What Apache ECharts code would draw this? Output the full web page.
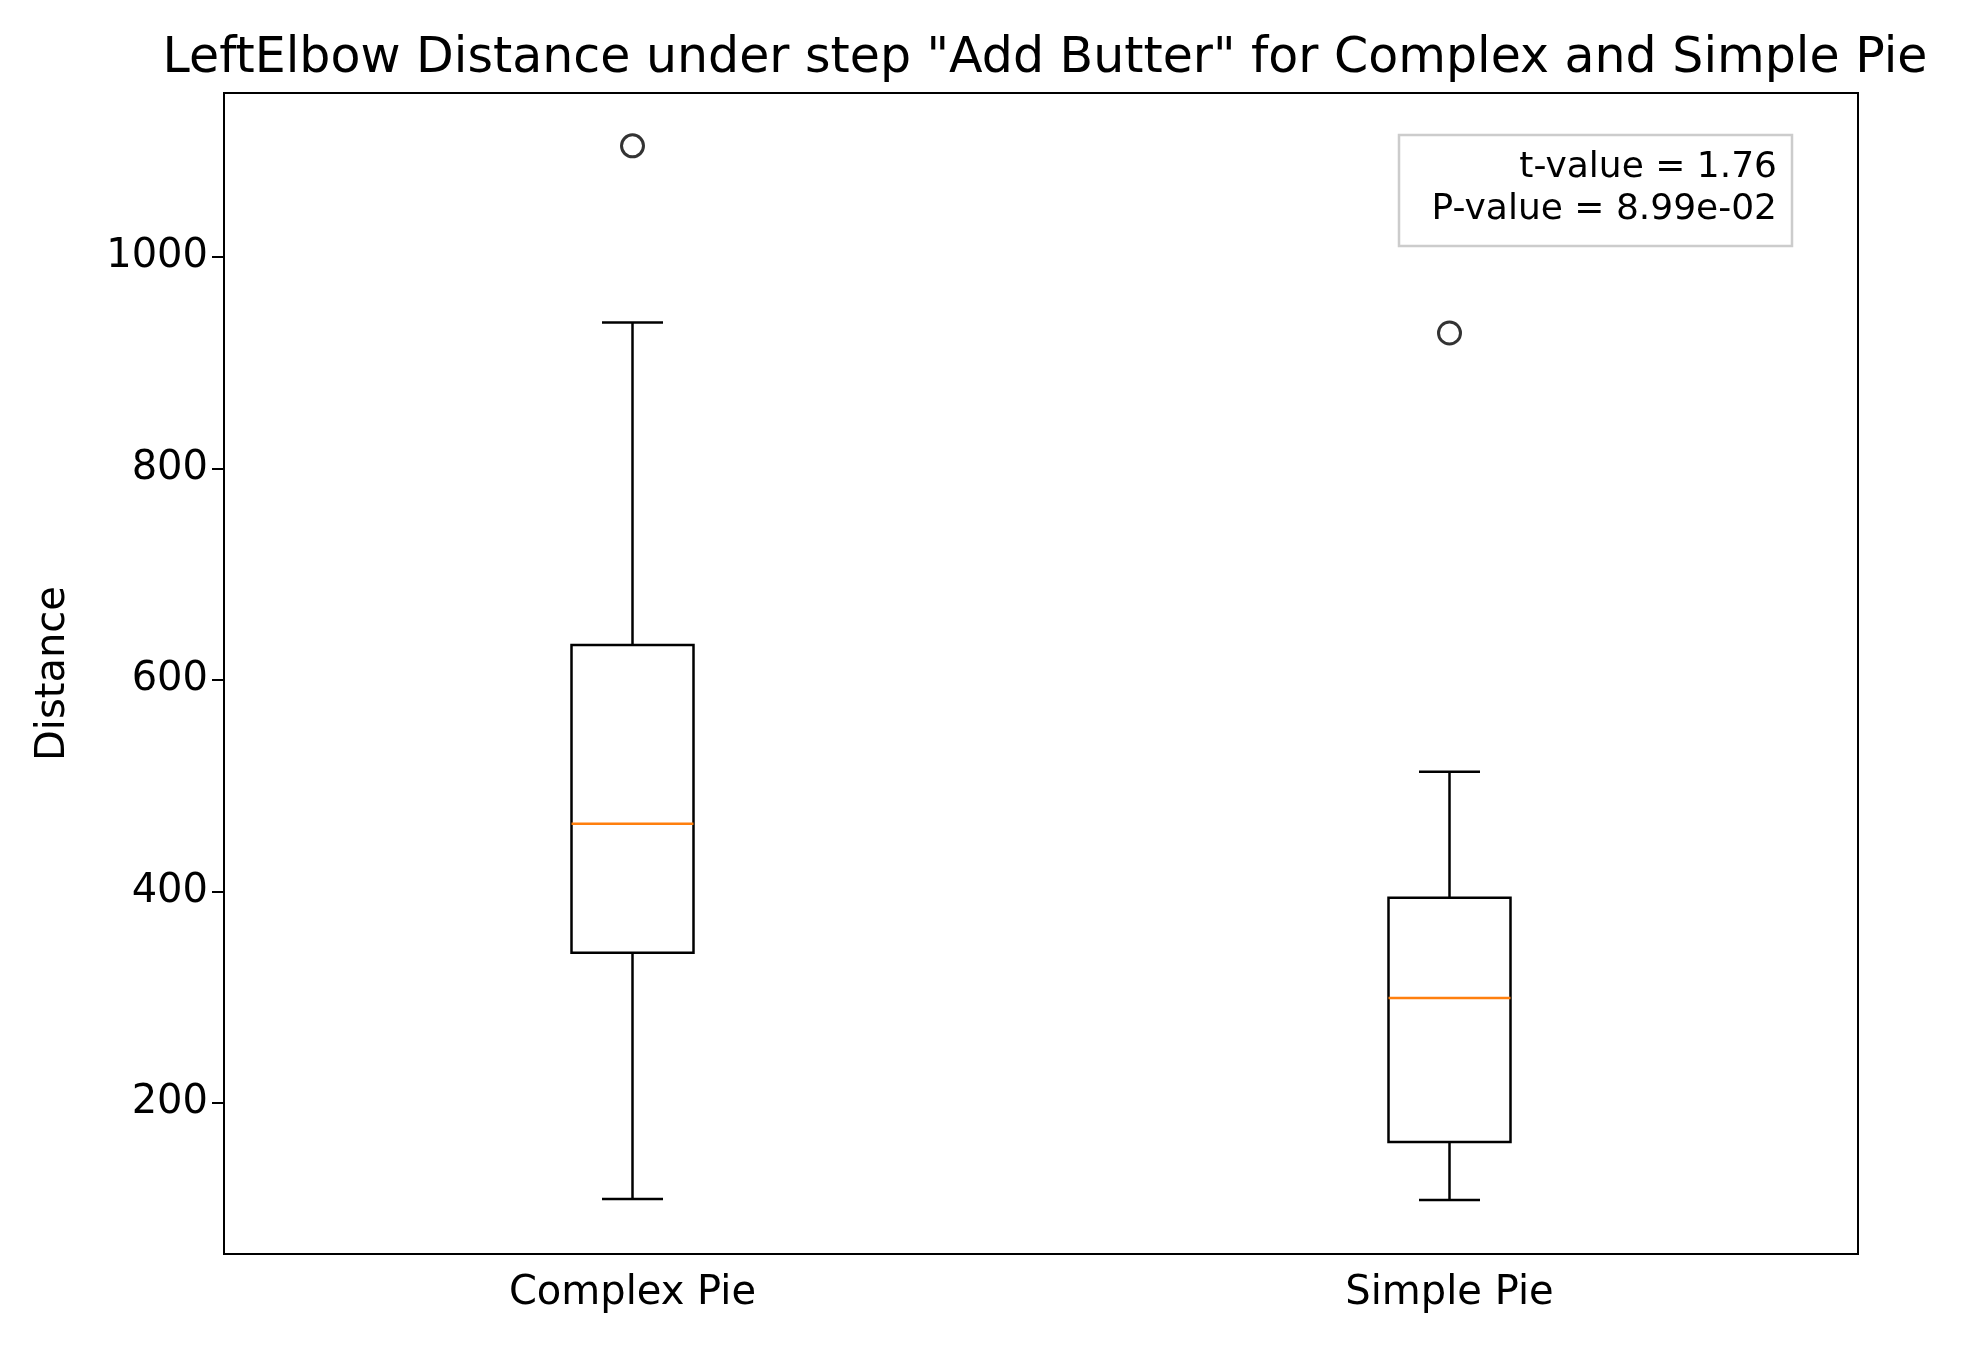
<!DOCTYPE html>
<html>
<head>
<meta charset="utf-8">
<script src="https://cdn.jsdelivr.net/npm/echarts@6/dist/echarts.min.js"></script>
<style>html,body{margin:0;padding:0;background:#fff}#chart{width:1966px;height:1347px}</style>
</head>
<body>
<div id="chart"></div>
<script>
// Values
const categories = ['Complex Pie', 'Simple Pie'];
// [lower whisker, Q1, median, Q3, upper whisker]
const boxStats = [
  [109, 342, 464, 633, 938],
  [108, 163, 299, 394, 513]
];
const outliers = [
  [0, 1105],
  [1, 928]
];
const yTicks = [200, 400, 600, 800, 1000];

const chart = echarts.init(document.getElementById('chart'));
const FONT = 'DejaVu Sans';
const BOX_W = 122;

chart.setOption({
  animation: false,
  title: {
    text: 'LeftElbow Distance under step "Add Butter" for Complex and Simple Pie',
    left: 1040, top: 30, textAlign: 'center',
    textStyle: { fontFamily: FONT, fontSize: 49, fontWeight: 'normal', color: '#000' }
  },
  grid: { left: 224, right: 108, top: 93, bottom: 93 },
  xAxis: {
    type: 'category', data: categories, boundaryGap: true,
    axisLine: { lineStyle: { color: '#000', width: 2 } },
    axisTick: { alignWithLabel: true, length: 12, lineStyle: { color: '#000', width: 2 },
      interval: 0, customValues: [0, 1] },
    axisLabel: { fontFamily: FONT, fontSize: 40, color: '#000', margin: 20 },
    splitLine: { show: false }
  },
  yAxis: {
    type: 'value', min: 57, max: 1155,
    name: 'Distance', nameLocation: 'middle', nameGap: 150,
    nameTextStyle: { fontFamily: FONT, fontSize: 40, color: '#000' },
    axisLine: { show: true, lineStyle: { color: '#000', width: 2 } },
    axisTick: { show: true, length: 12, lineStyle: { color: '#000', width: 2 }, customValues: yTicks },
    axisLabel: { fontFamily: FONT, fontSize: 40, color: '#000', margin: 16, customValues: yTicks,
      formatter: v => String(v) },
    splitLine: { show: false }
  },
  graphic: [
    { type: 'rect', shape: { x: 224, y: 93, width: 1634, height: 1161 },
      style: { fill: 'none', stroke: '#000', lineWidth: 2 }, z: 10 },
    { type: 'rect', shape: { x: 1399, y: 135, width: 393, height: 111 },
      style: { fill: '#fff', stroke: '#cccccc', lineWidth: 2.5 }, z: 11 },
    { type: 'text', right: 189, top: 147, z: 12,
      style: { text: 't-value = 1.76\nP-value = 8.99e-02', textAlign: 'right', align: 'right',
        font: '36px "DejaVu Sans"', fill: '#000', lineHeight: 42 } }
  ],
  series: [
    {
      type: 'custom',
      data: boxStats.map((s, i) => [i].concat(s)),
      renderItem: function (params, api) {
        const i = api.value(0);
        const p = k => api.coord([i, api.value(k)]);
        const lo = p(1), q1 = p(2), md = p(3), q3 = p(4), hi = p(5);
        const x = lo[0], hw = BOX_W / 2, cw = BOX_W / 4;
        const black = { stroke: '#000', lineWidth: 2.5, fill: 'none' };
        return {
          type: 'group',
          children: [
            { type: 'rect', shape: { x: x - hw, y: q3[1], width: BOX_W, height: q1[1] - q3[1] }, style: black },
            { type: 'line', shape: { x1: x, y1: q3[1], x2: x, y2: hi[1] }, style: black },
            { type: 'line', shape: { x1: x, y1: q1[1], x2: x, y2: lo[1] }, style: black },
            { type: 'line', shape: { x1: x - cw, y1: hi[1], x2: x + cw, y2: hi[1] }, style: black },
            { type: 'line', shape: { x1: x - cw, y1: lo[1], x2: x + cw, y2: lo[1] }, style: black },
            { type: 'line', shape: { x1: x - hw, y1: md[1], x2: x + hw, y2: md[1] },
              style: { stroke: '#ff7f0e', lineWidth: 2.5 } }
          ]
        };
      }
    },
    {
      type: 'scatter', data: outliers, symbol: 'circle', symbolSize: 22,
      itemStyle: { color: 'transparent', borderColor: '#000', borderWidth: 3 }
    }
  ]
});
</script>
</body>
</html>
